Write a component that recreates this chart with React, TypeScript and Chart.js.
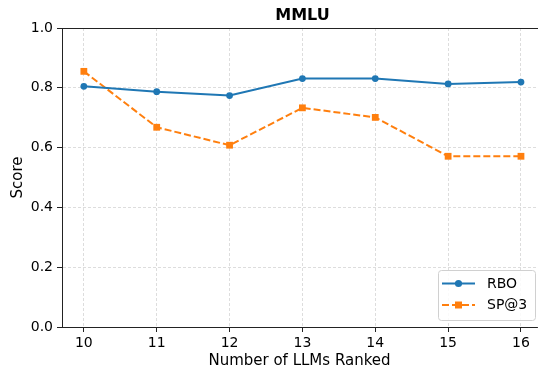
import React, { useEffect, useRef } from 'react';
import { Chart, registerables } from 'chart.js';

Chart.register(...registerables);

const chartTitle = 'MMLU';
const xValues = [10, 11, 12, 13, 14, 15, 16];
const rboScores = [0.805, 0.787, 0.774, 0.831, 0.831, 0.813, 0.819];
const sp3Scores = [0.855, 0.668, 0.608, 0.733, 0.701, 0.571, 0.571];
const yTicks = [0, 0.2, 0.4, 0.6, 0.8, 1.0];
const seriesNames = ['RBO', 'SP@3'];
const xLabel = 'Number of LLMs Ranked';
const yLabel = 'Score';

const FONT = "'DejaVu Sans', sans-serif";
const BLUE = '#1f77b4';
const ORANGE = '#ff7f0e';

const framePlugin = {
  id: 'frame',
  afterDraw(chart: any) {
    const { ctx, chartArea } = chart;
    ctx.save();
    ctx.strokeStyle = '#222';
    ctx.lineWidth = 1;
    ctx.beginPath();
    ctx.moveTo(chartArea.left, chartArea.top + 0.5);
    ctx.lineTo(chart.width, chartArea.top + 0.5);
    ctx.stroke();
    ctx.fillStyle = '#000';
    ctx.font = `bold 16px ${FONT}`;
    ctx.textAlign = 'center';
    ctx.textBaseline = 'middle';
    ctx.fillText(chartTitle, (chartArea.left + chartArea.right) / 2 + 3, 16);
    ctx.restore();
  },
};

const legendPlugin = {
  id: 'innerLegend',
  afterDraw(chart: any) {
    const { ctx } = chart;
    const x0 = 438, y0 = 270, w = 97, h = 50;
    ctx.save();
    ctx.fillStyle = 'rgba(255,255,255,0.85)';
    ctx.strokeStyle = '#d0d0d0';
    ctx.lineWidth = 1;
    ctx.beginPath();
    (ctx as any).roundRect(x0 + 0.5, y0 + 0.5, w, h, 3);
    ctx.fill();
    ctx.stroke();
    const rows = [283.5, 305];
    chart.data.datasets.forEach((ds: any, i: number) => {
      const y = rows[i];
      ctx.strokeStyle = ds.borderColor;
      ctx.lineWidth = ds.borderWidth;
      ctx.setLineDash(ds.borderDash || []);
      ctx.beginPath();
      ctx.moveTo(442, y);
      ctx.lineTo(475, y);
      ctx.stroke();
      ctx.setLineDash([]);
      ctx.fillStyle = ds.pointBackgroundColor;
      ctx.beginPath();
      if (ds.pointStyle === 'rect') {
        ctx.rect(458.5 - 3.5, y - 3.5, 7, 7);
      } else {
        ctx.arc(458.5, y, 3.6, 0, Math.PI * 2);
      }
      ctx.fill();
      ctx.fillStyle = '#000';
      ctx.font = `14px ${FONT}`;
      ctx.textAlign = 'left';
      ctx.textBaseline = 'middle';
      ctx.fillText(ds.label, 487, y + 0.5);
    });
    ctx.restore();
  },
};

export default function App() {
  const ref = useRef<HTMLCanvasElement | null>(null);
  useEffect(() => {
    if (!ref.current) return;
    const gridCommon = {
      color: 'rgba(176,176,176,0.55)',
      lineWidth: 0.8,
      tickColor: '#222',
      tickLength: 5,
      tickWidth: 1,
      tickBorderDash: [],
    };
    const chart = new Chart(ref.current, {
      type: 'line',
      data: {
        datasets: [
          {
            label: seriesNames[0],
            data: xValues.map((x, i) => ({ x, y: rboScores[i] })),
            borderColor: BLUE,
            backgroundColor: BLUE,
            pointBackgroundColor: BLUE,
            pointBorderColor: BLUE,
            borderWidth: 2,
            pointStyle: 'circle',
            pointRadius: 3.4,
            pointBorderWidth: 0,
            tension: 0,
          },
          {
            label: seriesNames[1],
            data: xValues.map((x, i) => ({ x, y: sp3Scores[i] })),
            borderColor: ORANGE,
            backgroundColor: ORANGE,
            pointBackgroundColor: ORANGE,
            pointBorderColor: ORANGE,
            borderWidth: 2,
            borderDash: [7, 3],
            pointStyle: 'rect',
            pointRadius: 4.8,
            pointBorderWidth: 0,
            tension: 0,
          },
        ],
      },
      options: {
        animation: false,
        responsive: false,
        maintainAspectRatio: false,
        layout: { autoPadding: false, padding: { top: 28, right: 1, left: 0, bottom: 0 } },
        plugins: {
          legend: { display: false },
          title: { display: false },
          tooltip: { enabled: false },
        },
        scales: {
          x: {
            type: 'linear',
            min: 9.7,
            max: 16.22,
            afterBuildTicks: (scale: any) => {
              scale.ticks = xValues.map((v) => ({ value: v }));
            },
            afterFit: (scale: any) => {
              scale.height = 40;
              scale.paddingLeft = 0;
              scale.paddingRight = 0;
            },
            grid: { ...gridCommon },
            border: { display: true, color: '#222', width: 1, dash: [3, 2] },
            ticks: {
              color: '#000',
              font: { family: FONT, size: 14 },
              padding: 3,
              maxRotation: 0,
              callback: (v: any) => String(v),
            },
            title: {
              display: true,
              text: xLabel,
              color: '#000',
              font: { family: FONT, size: 15, lineHeight: 0.75 },
              padding: { top: 0, bottom: 0 },
            },
          },
          y: {
            type: 'linear',
            min: 0,
            max: 1,
            afterBuildTicks: (scale: any) => {
              scale.ticks = yTicks.map((v) => ({ value: v }));
            },
            afterFit: (scale: any) => {
              scale.width = 62;
              scale.paddingTop = 0;
              scale.paddingBottom = 0;
            },
            grid: { ...gridCommon },
            border: { display: true, color: '#222', width: 1, dash: [3, 2] },
            ticks: {
              color: '#000',
              font: { family: FONT, size: 14 },
              padding: 4,
              callback: (v: any) => Number(v).toFixed(1),
            },
            title: {
              display: true,
              text: yLabel,
              color: '#000',
              font: { family: FONT, size: 15, lineHeight: 1 },
              padding: { top: 11, bottom: 0 },
            },
          },
        },
      },
      plugins: [framePlugin, legendPlugin],
    } as any);
    return () => chart.destroy();
  }, []);
  return (
    <div style={{ position: 'fixed', left: 0, top: 0, width: 538, height: 367, background: '#fff' }}>
      <canvas ref={ref} width={538} height={367} style={{ display: 'block', width: 538, height: 367 }} />
    </div>
  );
}
